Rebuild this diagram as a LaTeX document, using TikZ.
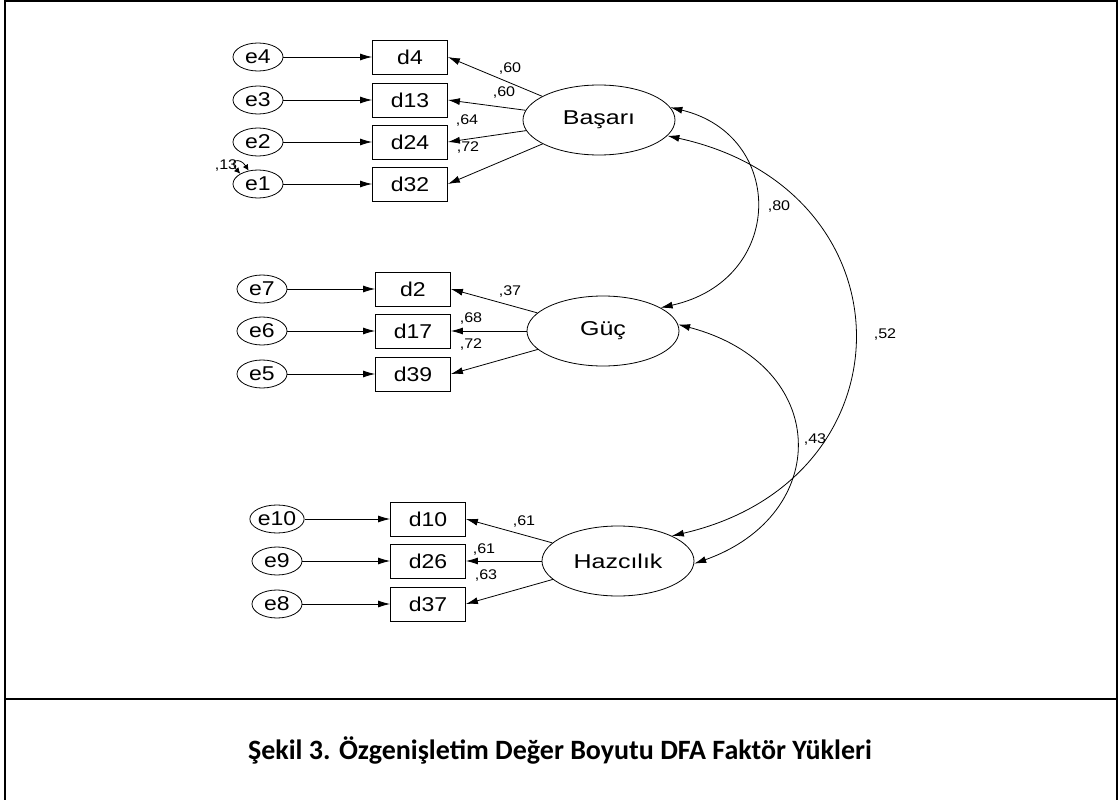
\documentclass[tikz,border=0pt]{standalone}
\usepackage{fontspec}
\newfontfamily\amosfont[FakeStretch=1.15]{Liberation Sans}
\newfontfamily\latfont[FakeStretch=1.25]{Liberation Sans}
\newfontfamily\captionfont{Carlito}
\usetikzlibrary{arrows.meta,shapes.geometric,positioning}

\begin{document}
\begin{tikzpicture}[x=1pt,y=-1pt,
  lat/.style={ellipse,draw,line width=0.8pt,minimum width=152pt,minimum height=70pt,inner sep=0pt,font=\latfont\fontsize{20}{22}\selectfont},
  obs/.style={rectangle,draw,line width=0.8pt,minimum width=75pt,minimum height=34pt,inner sep=0pt,font=\amosfont\fontsize{20}{22}\selectfont},
  err/.style={ellipse,draw,line width=0.8pt,minimum width=50pt,minimum height=28pt,inner sep=0pt,font=\amosfont\fontsize{20}{22}\selectfont},
  load/.style={inner sep=0pt,font=\amosfont\fontsize{14}{16}\selectfont},
  arr/.style={-{Latex[length=12pt,width=7pt]},line width=0.8pt},
  cov/.style={{Latex[length=12pt,width=7pt]}-{Latex[length=12pt,width=7pt]},line width=0.8pt}]
  \useasboundingbox (0,0) rectangle (1120,800);
  % frame
  \draw[line width=2.5pt] (5,800) -- (5,1) -- (1117,1) -- (1117,800);
  \draw[line width=2.5pt] (5,699) -- (1117,699);
  % factors
  \node[lat] (bas) at (599,120) {Başarı};
  \node[lat] (guc) at (603,331) {Güç};
  \node[lat] (haz) at (618,561) {Hazcılık};
  % items
  \node[obs] (d4)  at (410,57)  {d4};
  \node[obs] (d13) at (410,100) {d13};
  \node[obs] (d24) at (410,142) {d24};
  \node[obs] (d32) at (410,184) {d32};
  \node[obs] (d2)  at (413,289) {d2};
  \node[obs] (d17) at (413,331) {d17};
  \node[obs] (d39) at (413,374) {d39};
  \node[obs] (d10) at (428,519) {d10};
  \node[obs] (d26) at (428,561) {d26};
  \node[obs] (d37) at (428,604) {d37};
  % errors
  \node[err] (e4)  at (258,57)  {e4};
  \node[err] (e3)  at (258,100) {e3};
  \node[err] (e2)  at (258,142) {e2};
  \node[err] (e1)  at (258,184) {e1};
  \node[err] (e7)  at (262,289) {e7};
  \node[err] (e6)  at (262,331) {e6};
  \node[err] (e5)  at (262,374) {e5};
  \node[err] (e10) at (277,519) {e10};
  \node[err] (e9)  at (277,561) {e9};
  \node[err] (e8)  at (277,604) {e8};
  \foreach \e/\d in {e4/d4,e3/d13,e2/d24,e1/d32,e7/d2,e6/d17,e5/d39,e10/d10,e9/d26,e8/d37}
    \draw[arr] (\e) -- (\d);
  % loadings
  \foreach \f/\d in {bas/d4,bas/d13,bas/d24,bas/d32,guc/d2,guc/d17,guc/d39,haz/d10,haz/d26,haz/d37}
    \draw[arr] (\f) -- (\d.east);
  \node[load] at (510,69)  {,60};
  \node[load] at (504,93)  {,60};
  \node[load] at (467,121) {,64};
  \node[load] at (468,148) {,72};
  \node[load] at (510,292) {,37};
  \node[load] at (471,319) {,68};
  \node[load] at (471,345) {,72};
  \node[load] at (524,522) {,61};
  \node[load] at (484,550) {,61};
  \node[load] at (486,576) {,63};
  % variance of e1
  \draw[line width=0.8pt,{Latex[length=6pt,width=6pt]}-{Latex[length=6pt,width=6pt]}] (e1.150) .. controls (228,160) and (240,157) .. (e1.125);
  \node[load] at (226,166) {,13};
  % covariances
  \draw[cov] (bas.10) .. controls (786,135) and (786,280) .. (guc.22);
  \draw[cov] (bas.-13) .. controls (915,190) and (915,480) .. (haz.25);
  \draw[cov] (guc.5) .. controls (832,365) and (832,515) .. (haz.-2);
  \node[load] at (779,207) {,80};
  \node[load] at (885,335) {,52};
  \node[load] at (815,440) {,43};
  % caption
  \node[font=\captionfont\bfseries\fontsize{28}{32}\selectfont] (cap) at (560,750) {Şekil 3. Özgenişletim Değer Boyutu DFA Faktör Yükleri};
\end{tikzpicture}
\end{document}
